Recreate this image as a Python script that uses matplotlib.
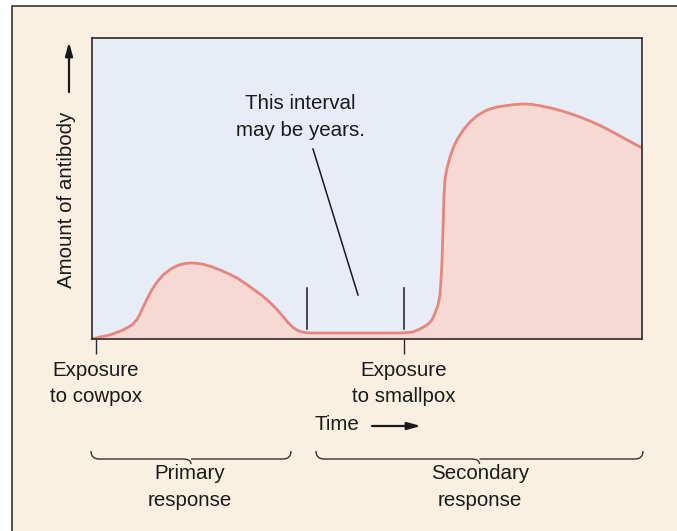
import matplotlib
matplotlib.use("Agg")
import matplotlib.pyplot as plt
from matplotlib.patches import Rectangle
from matplotlib.path import Path
from matplotlib.patches import PathPatch

# ---- data (time units, antibody amount units) ----
time = [0, 8, 18, 31, 40, 45, 48, 51, 55, 60, 65, 71, 78, 83, 88, 93, 98, 104, 111,
        119, 128, 136, 145, 153, 161, 170, 178, 185, 191, 196, 200, 204, 208, 213, 218,
        268, 308, 316, 321, 328, 335, 340, 343, 346, 348, 349, 350, 351, 352, 353, 355,
        358, 362, 366, 372, 378, 386, 395, 405, 415, 423, 431,
        440, 448, 458, 468, 478, 488, 498, 508, 518, 528, 539, 550]
antibody = [0, 2, 4, 9, 14, 19.5, 25, 31.5, 40, 49.5, 57, 64, 69.5, 72.3, 74.3, 75.5, 76, 75.8, 74.8,
            72.5, 69, 65.5, 61, 55.8, 50, 43.5, 36.5, 29.5, 22.5, 16.5, 12.5, 9.5, 7.5, 6.5, 6,
            6, 6, 6.5, 7, 10, 14, 19, 26, 34, 44, 60, 77, 110, 144, 160, 171,
            182, 193, 201, 210, 217, 224, 229, 232, 233.5, 234.5, 235,
            234.6, 233.2, 231.2, 228.6, 225.5, 222, 218, 213.5, 208.5, 203, 197, 191]
exposure_times = [4, 312]
exposure_labels = ["Exposure\nto cowpox", "Exposure\nto smallpox"]
interval_marks = [215, 312]
interval_mark_range = [10, 51]

W, H = 677, 531
DPI = 100
BG = "#FAF0E1"
AXBG = "#E8ECF6"
FILL = "#F7D9D3"
LINE = "#E6857E"
INK = "#1a1a1a"
FS = 14.8

plt.rcParams['font.family'] = ['Liberation Sans', 'DejaVu Sans']

fig = plt.figure(figsize=(W / DPI, H / DPI), dpi=DPI, facecolor="white")

# overlay in pixel coordinates
ov = fig.add_axes([0, 0, 1, 1], zorder=0)
ov.set_xlim(0, W)
ov.set_ylim(H, 0)
ov.axis("off")
ov.add_patch(Rectangle((12, 6), 700, 560, facecolor=BG, edgecolor="#333333", lw=1.2))

# main axes
x0, y0, x1, y1 = 92, 38, 642, 339
ax = fig.add_axes([x0 / W, 1 - y1 / H, (x1 - x0) / W, (y1 - y0) / H], zorder=1)
ax.set_facecolor(AXBG)
ax.set_xlim(0, 550)
ax.set_ylim(0, 301)
ax.fill_between(time, antibody, 0, color=FILL, lw=0)
ax.plot(time, antibody, color=LINE, lw=2.0, solid_capstyle="round", solid_joinstyle="round")
for s in ax.spines.values():
    s.set_color("#2a2a2a")
    s.set_linewidth(1.2)
ax.set_yticks([])
ax.set_xticks(exposure_times)
ax.set_xticklabels(exposure_labels, fontsize=FS, color=INK, linespacing=1.5)
ax.tick_params(axis="x", length=10.5, width=1.0, color="#2a2a2a", pad=5)

for t in interval_marks:
    ax.plot([t, t], interval_mark_range, color=INK, lw=1.1)

ax.text(208, 222, "This interval\nmay be years.", ha="center", va="center",
        fontsize=FS, color=INK, linespacing=1.5)
ax.plot([221, 266], [190, 44], color=INK, lw=1.1)

# y label and arrow
ov.text(66, 200, "Amount of antibody", rotation=90, ha="center", va="center",
        fontsize=FS, color=INK)
ov.annotate("", xy=(69, 42), xytext=(69, 92),
            arrowprops=dict(arrowstyle="-|>,head_length=0.8,head_width=0.22",
                            color=INK, lw=1.6, shrinkA=0, shrinkB=0))

# Time label and arrow
ov.text(337, 424, "Time", ha="center", va="center", fontsize=FS, color=INK)
ov.annotate("", xy=(421, 426), xytext=(372, 426),
            arrowprops=dict(arrowstyle="-|>,head_length=0.8,head_width=0.22",
                            color=INK, lw=1.6, shrinkA=0, shrinkB=0))


def brace(xa, xb, ytop, ybot, ytip):
    xm = (xa + xb) / 2
    r = 8
    verts = [(xa, ytop), (xa, ybot), (xa + r, ybot),
             (xm - r, ybot), (xm, ybot), (xm, ytip),
             (xm, ybot), (xm + r, ybot),
             (xb - r, ybot), (xb, ybot), (xb, ytop)]
    codes = [Path.MOVETO, Path.CURVE3, Path.CURVE3,
             Path.LINETO, Path.CURVE3, Path.CURVE3,
             Path.MOVETO, Path.LINETO,
             Path.LINETO, Path.CURVE3, Path.CURVE3]
    ov.add_patch(PathPatch(Path(verts, codes), fill=False, edgecolor="#333333", lw=1.0))


brace(91, 291, 451, 459, 464)
brace(316, 643, 451, 459, 464)

ov.text(190, 487, "Primary\nresponse", ha="center", va="center", fontsize=FS,
        color=INK, linespacing=1.5)
ov.text(480, 487, "Secondary\nresponse", ha="center", va="center", fontsize=FS,
        color=INK, linespacing=1.5)

fig.savefig("out.png", dpi=DPI, facecolor="white")
